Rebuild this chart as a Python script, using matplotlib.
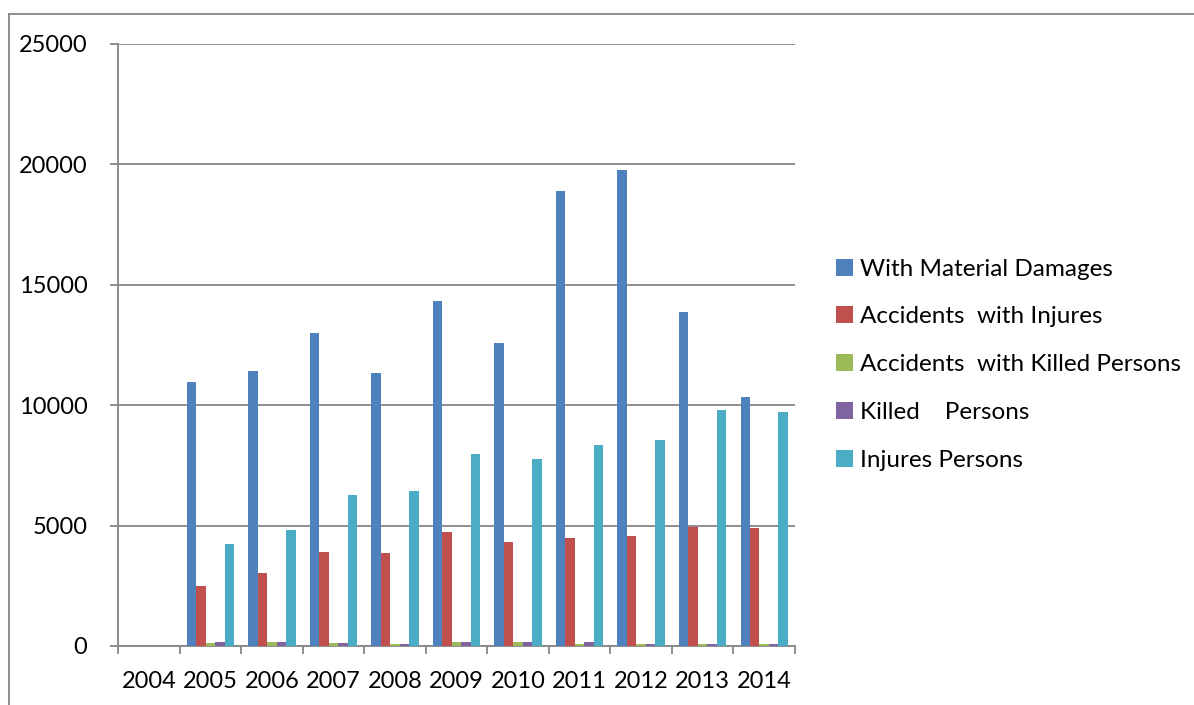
import numpy as np
import matplotlib.pyplot as plt
from matplotlib.lines import Line2D
from matplotlib.patches import Patch

years = ['2004', '2005', '2006', '2007', '2008', '2009', '2010', '2011', '2012', '2013', '2014']

material_damages = [0, 10950, 11430, 13000, 11320, 14330, 12600, 18900, 19760, 13880, 10330]
accidents_injures = [0, 2500, 3020, 3900, 3850, 4730, 4330, 4490, 4560, 4960, 4880]
accidents_killed = [0, 140, 150, 110, 85, 160, 150, 100, 85, 70, 85]
killed_persons = [0, 170, 180, 130, 100, 180, 170, 150, 85, 95, 100]
injures_persons = [0, 4220, 4800, 6280, 6430, 7980, 7750, 8330, 8560, 9820, 9720]

series_names = ['With Material Damages', 'Accidents  with Injures',
                'Accidents  with Killed Persons', 'Killed    Persons', 'Injures Persons']
colors = ['#4F81BD', '#C0504D', '#9BBB59', '#8064A2', '#4BACC6']

plt.rcParams['font.family'] = ['Lato', 'DejaVu Sans']

fig = plt.figure(figsize=(11.94, 7.05), dpi=100)
ax = fig.add_axes([118 / 1194, 59 / 705, 677 / 1194, 602 / 705])

all_series = [material_damages, accidents_injures, accidents_killed, killed_persons, injures_persons]
x = np.arange(len(years))
w = 1 / 6.5
for k, vals in enumerate(all_series):
    ax.bar(x + (k - 2) * w, vals, width=w, color=colors[k], zorder=3)

ax.set_xlim(-0.5, len(years) - 0.5)
ax.set_ylim(0, 25000)
ax.set_yticks(range(0, 25001, 5000))
ax.yaxis.grid(True, color='#868686', linewidth=1.3, zorder=0)

# category boundary ticks on x, labels at centres
ax.set_xticks(np.arange(-0.5, len(years)), minor=False)
ax.set_xticklabels([])
ax.set_xticks(x, minor=True)
ax.set_xticklabels(years, minor=True)
ax.tick_params(axis='x', which='major', length=6, width=1.3, color='#868686', direction='out')
ax.tick_params(axis='x', which='minor', length=0, pad=18, labelsize=17)
ax.tick_params(axis='y', length=6, width=1.3, color='#868686', pad=16, labelsize=17)

for side in ['top', 'right']:
    ax.spines[side].set_visible(False)
for side in ['left', 'bottom']:
    ax.spines[side].set_color('#868686')
    ax.spines[side].set_linewidth(1.3)

handles = [Patch(facecolor=c, edgecolor='none') for c in colors]
fig.legend(handles, series_names, loc='upper left', bbox_to_anchor=(826 / 1194, 1 - 249 / 705),
           frameon=False, fontsize=17.5, handlelength=0.7, handleheight=0.7,
           handletextpad=0.3, labelspacing=1.1, borderaxespad=0)

# outer chart border
fig.add_artist(Line2D([9 / 1194, 9 / 1194], [0, 1 - 14 / 705], transform=fig.transFigure,
                      color='#868686', linewidth=1.3))
fig.add_artist(Line2D([9 / 1194, 1], [1 - 14 / 705, 1 - 14 / 705], transform=fig.transFigure,
                      color='#868686', linewidth=1.3))

fig.savefig('out.png', dpi=100)
